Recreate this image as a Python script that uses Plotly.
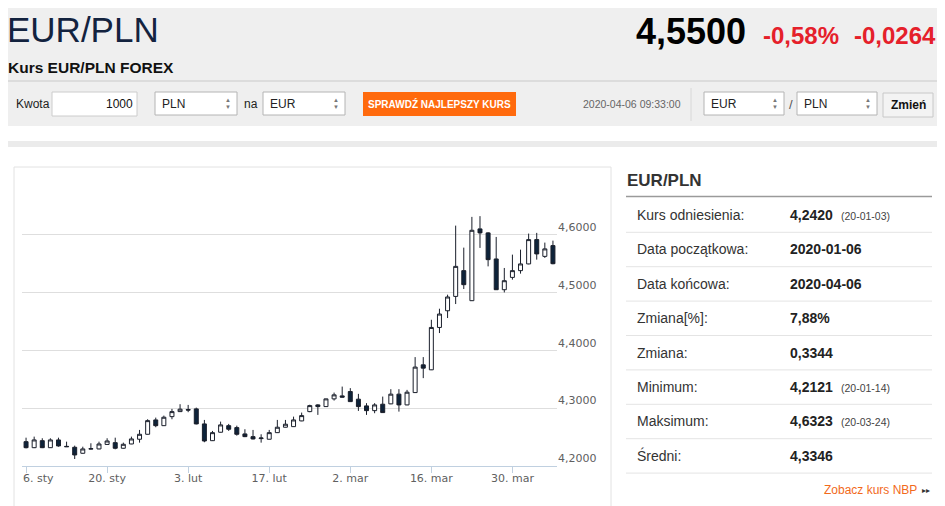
import pandas as pd
import plotly.graph_objects as go

# EUR/PLN daily candles, 2020-01-06 .. 2020-04-06 (trading days only)
days = [d.strftime("%Y-%m-%d") for d in pd.bdate_range("2020-01-06", "2020-04-06")]

open_ = [4.2421, 4.2317, 4.2438, 4.2317, 4.2451, 4.2340, 4.2324, 4.2220, 4.2292, 4.2295,
         4.2373, 4.2404, 4.2307, 4.2381, 4.2463, 4.2549, 4.2797, 4.2698, 4.2854, 4.2941,
         4.2978, 4.2988, 4.2728, 4.2438, 4.2584, 4.2698, 4.2664, 4.2555, 4.2508, 4.2474,
         4.2463, 4.2577, 4.2671, 4.2681, 4.2780, 4.2941, 4.3057, 4.3028, 4.3161, 4.3213,
         4.3288, 4.3156, 4.3040, 4.2958, 4.3069, 4.3075, 4.3243, 4.3057, 4.3270, 4.3750,
         4.3664, 4.4397, 4.4686, 4.4934, 4.5380, 4.4860, 4.6102, 4.6033, 4.5582, 4.5050,
         4.5263, 4.5380, 4.5496, 4.5917, 4.5627, 4.5813]
high = [4.2490, 4.2508, 4.2480, 4.2480, 4.2490, 4.2421, 4.2352, 4.2334, 4.2393, 4.2421,
        4.2480, 4.2490, 4.2404, 4.2508, 4.2624, 4.2809, 4.2837, 4.2872, 4.2988, 4.3069,
        4.3057, 4.3010, 4.2797, 4.2607, 4.2768, 4.2728, 4.2698, 4.2636, 4.2624, 4.2549,
        4.2624, 4.2797, 4.2797, 4.2854, 4.2924, 4.3060, 4.3069, 4.3165, 4.3270, 4.3374,
        4.3347, 4.3248, 4.3087, 4.3087, 4.3201, 4.3329, 4.3329, 4.3317, 4.3884, 4.3884,
        4.4530, 4.4721, 4.4964, 4.6159, 4.5778, 4.6310, 4.6323, 4.6045, 4.5963, 4.5426,
        4.5657, 4.5743, 4.6021, 4.6033, 4.5865, 4.5899]
low = [4.2305, 4.2310, 4.2310, 4.2312, 4.2334, 4.2330, 4.2121, 4.2215, 4.2287, 4.2290,
       4.2370, 4.2289, 4.2300, 4.2378, 4.2404, 4.2545, 4.2671, 4.2695, 4.2809, 4.2938,
       4.2931, 4.2720, 4.2411, 4.2433, 4.2580, 4.2607, 4.2525, 4.2500, 4.2460, 4.2404,
       4.2460, 4.2572, 4.2668, 4.2678, 4.2775, 4.2931, 4.2884, 4.3025, 4.3132, 4.3188,
       4.3110, 4.2953, 4.2884, 4.2913, 4.2920, 4.3070, 4.2941, 4.3052, 4.3265, 4.3520,
       4.3660, 4.4300, 4.4560, 4.4802, 4.5062, 4.4855, 4.5773, 4.5454, 4.5045, 4.5003,
       4.5224, 4.5328, 4.5490, 4.5570, 4.5600, 4.5490]
close = [4.2317, 4.2451, 4.2317, 4.2451, 4.2347, 4.2334, 4.2191, 4.2295, 4.2300, 4.2381,
         4.2433, 4.2307, 4.2376, 4.2468, 4.2549, 4.2785, 4.2698, 4.2844, 4.2941, 4.2983,
         4.2968, 4.2728, 4.2433, 4.2577, 4.2711, 4.2636, 4.2549, 4.2508, 4.2468, 4.2484,
         4.2577, 4.2671, 4.2723, 4.2797, 4.2872, 4.3045, 4.3028, 4.3161, 4.3231, 4.3191,
         4.3114, 4.3028, 4.2958, 4.3057, 4.2924, 4.3243, 4.3057, 4.3277, 4.3711, 4.3693,
         4.4397, 4.4629, 4.4924, 4.5454, 4.5137, 4.6078, 4.6033, 4.5570, 4.5050, 4.5206,
         4.5380, 4.5496, 4.5917, 4.5669, 4.5756, 4.5500]

tick_days = ["2020-01-06", "2020-01-20", "2020-02-03", "2020-02-17",
             "2020-03-02", "2020-03-16", "2020-03-30"]
tick_text = ["6. sty", "20. sty", "3. lut", "17. lut", "2. mar", "16. mar", "30. mar"]
price_ticks = [4.2, 4.3, 4.4, 4.5, 4.6, 4.7]

# side table
row_labels = ["Kurs odniesienia:", "Data początkowa:", "Data końcowa:", "Zmiana[%]:",
              "Zmiana:", "Minimum:", "Maksimum:", "Średni:"]
row_values = ["4,2420", "2020-01-06", "2020-04-06", "7,88%", "0,3344", "4,2121", "4,6323", "4,3346"]
row_notes = ["(20-01-03)", "", "", "", "", "(20-01-14)", "(20-03-24)", ""]

W, H = 945, 506
OX, OY = 8, 8   # page body margin, the figure lands 8px right/down
SANS = "Liberation Sans, Arial, sans-serif"
NAVY = "#0d233a"
RED = "#e5202a"
AXIS_FONT = dict(family="DejaVu Sans", size=11, color="#606060")

def px(x):
    return (x - OX) / W

def py(y):
    return 1 - (y - OY) / H

shapes = []
annotations = []

def rect(x0, y0, x1, y1, fill, line=None, lw=1):
    shapes.append(dict(type="rect", xref="paper", yref="paper", layer="below",
                       x0=px(x0), x1=px(x1), y0=py(y1), y1=py(y0), fillcolor=fill,
                       line=dict(color=line if line else fill, width=lw if line else 0)))

def hline(x0, x1, y, color, lw=1):
    shapes.append(dict(type="line", xref="paper", yref="paper", layer="below",
                       x0=px(x0), x1=px(x1), y0=py(y), y1=py(y), line=dict(color=color, width=lw)))

def vline(x, y0, y1, color, lw=1):
    shapes.append(dict(type="line", xref="paper", yref="paper", layer="below",
                       x0=px(x), x1=px(x), y0=py(y0), y1=py(y1), line=dict(color=color, width=lw)))

def label(x, y, s, size, color="#333", bold=False, anchor="left", family=SANS):
    annotations.append(dict(xref="paper", yref="paper", x=px(x), y=py(y), showarrow=False,
                            text="<b>%s</b>" % s if bold else s, xanchor=anchor, yanchor="middle",
                            borderpad=0, font=dict(size=size, color=color, family=family)))

def select(x0, x1, y0, y1, s):
    rect(x0, y0, x1, y1, "#ffffff", "#b4b4b4")
    label(x0 + 6, (y0 + y1) / 2, s, 12, "#222")
    label(x1 - 9, (y0 + y1) / 2 - 3.5, "▲", 6, "#777", anchor="center")
    label(x1 - 9, (y0 + y1) / 2 + 3.5, "▼", 6, "#777", anchor="center")

# header band
rect(0, 0, W + 10, 126, "#efefef")
label(6, 30, "EUR/PLN", 35, "#13233f")
label(747, 32, "4,5500", 36, "#000", bold=True, anchor="right")
label(840, 35, "-0,58%", 24, RED, bold=True, anchor="right")
label(937, 35, "-0,0264", 24, RED, bold=True, anchor="right")
label(7, 67, "Kurs EUR/PLN FOREX", 15.5, "#111", bold=True)
hline(8, 937, 81, "#dcdcdc", 2)

# converter row
label(15, 104, "Kwota", 12, "#222")
rect(52, 92, 137, 116, "#ffffff", "#cccccc")
label(134, 104, "1000", 12, "#111", anchor="right")
select(155, 237, 92, 115, "PLN")
label(243, 104, "na", 12, "#222")
select(263, 345, 92, 115, "EUR")
rect(363, 92, 516, 116, "#ff6a0d")
label(439.5, 104, "SPRAWDŹ NAJLEPSZY KURS", 10, "#ffffff", bold=True, anchor="center")
label(682, 104, "2020-04-06 09:33:00", 10.5, "#666", anchor="right")
vline(691, 88, 121, "#d8d8d8")
select(704, 784, 92, 115, "EUR")
label(791, 104, "/", 13, "#555", anchor="center")
select(797, 877, 92, 115, "PLN")
rect(883, 93, 933, 117, "#f3f3f3", "#c8c8c8")
label(908, 105, "Zmień", 12, "#111", bold=True, anchor="center")

rect(0, 141, W + 10, 147, "#ebebeb")

# chart frame
shapes.append(dict(type="rect", xref="paper", yref="paper", layer="below",
                   x0=px(14), x1=px(611), y0=py(530), y1=py(167),
                   line=dict(color="#e2e2e2", width=1), fillcolor="rgba(0,0,0,0)"))

# side panel
label(626, 180, "EUR/PLN", 17, "#333", bold=True)
hline(626, 932, 196.5, "#9a9a9a", 1.5)
for i, (lab, val, note) in enumerate(zip(row_labels, row_values, row_notes)):
    yc = 215 + i * 34.4
    label(636, yc, lab, 14, "#333")
    label(789, yc, val, 14, "#222", bold=True)
    if note:
        label(840, yc + 1, note, 10.5, "#444")
    hline(626, 932, yc + 17.3, "#e4e4e4")
label(918, 490, "Zobacz kurs NBP", 12, "#f26a1b", anchor="right")
label(926, 490, "▸▸", 8, "#333", anchor="center")

# the first date label sits flush with the left edge, as in the original
label(22, 478, tick_text[0], 11, AXIS_FONT["color"], family=AXIS_FONT["family"])

fig = go.Figure(go.Candlestick(
    x=days, open=open_, high=high, low=low, close=close,
    increasing=dict(fillcolor="#ffffff", line=dict(color="#1a1f2b", width=1)),
    decreasing=dict(fillcolor=NAVY, line=dict(color="#1a1f2b", width=1)),
    whiskerwidth=0, hoverinfo="skip",
))

fig.update_layout(
    width=W, height=H, margin=dict(l=0, r=0, t=0, b=0, autoexpand=False),
    paper_bgcolor="#ffffff", plot_bgcolor="rgba(0,0,0,0)",
    showlegend=False, shapes=shapes, annotations=annotations,
    xaxis=dict(type="category", domain=[px(22), px(557)], range=[-0.5, 65.5],
               rangeslider=dict(visible=False), showgrid=False, showline=True,
               linecolor="#c0d0e0", linewidth=1, ticks="outside", ticklen=6,
               tickcolor="#c0d0e0", tickvals=tick_days,
               ticktext=[""] + tick_text[1:], ticklabelstandoff=-4,
               tickfont=AXIS_FONT, automargin=False, fixedrange=True),
    yaxis=dict(domain=[py(466), py(177)], range=[4.2, 4.7], side="right",
               tickvals=price_ticks,
               ticktext=[("%.4f" % v).replace(".", ",") if v < 4.65 else "" for v in price_ticks],
               gridcolor="#dedede", showline=False, zeroline=False, ticks="",
               ticklabelposition="outside top", tickfont=AXIS_FONT,
               automargin=False, fixedrange=True),
)

fig.write_html("out.html")
